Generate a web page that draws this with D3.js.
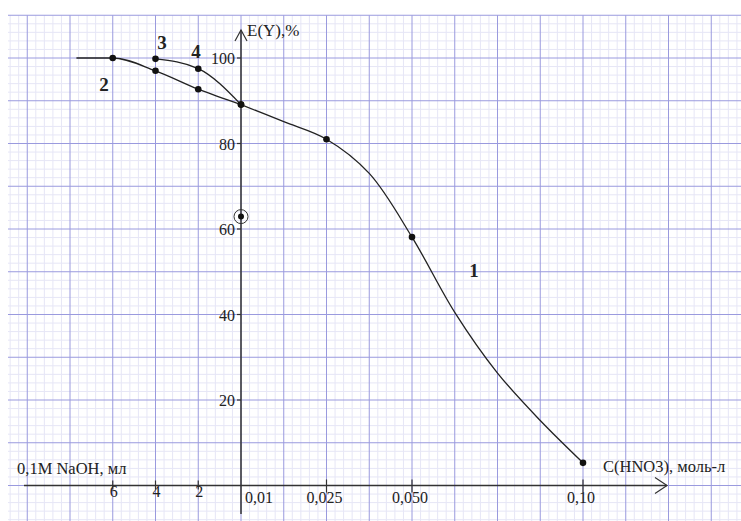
<!DOCTYPE html>
<html>
<head>
<meta charset="utf-8">
<script src="https://cdn.jsdelivr.net/npm/d3@7"></script>
<style>
  html, body { margin: 0; padding: 0; background: #fff; }
  svg { display: block; }
  text { font-family: "Liberation Serif", "Times New Roman", serif; fill: #222; }
</style>
</head>
<body>
<svg id="chart" width="741" height="521"></svg>
<script>
// Extraction degree E(Y), % versus HNO3 concentration (right) and added 0.1M NaOH volume (left)
const concTicks = [0.01, 0.025, 0.05, 0.10];
const concTickLabels = ["0,01", "0,025", "0,050", "0,10"];
const naohTicks = [6, 4, 2];
const eTicks = [20, 40, 60, 80, 100];

// curve 1: E vs C(HNO3), mol/l
const curve1Markers = [[0.01, 89.1], [0.025, 81.0], [0.05, 58.1], [0.10, 5.3]];
const curve1Trace = [[0.01, 89.1], [0.0175, 85.1], [0.025, 81.0], [0.0375, 73.0], [0.05, 58.1],
                     [0.0625, 40.5], [0.075, 26.3], [0.0875, 15.2], [0.10, 5.3]];
// curve 2: E vs NaOH volume, ml
const curve2Markers = [[6, 100], [4, 97.0], [2, 92.7], [0, 89.1]];
const curve2Trace = [[7.7, 100], [6, 100], [4, 97.0], [2, 92.7], [0, 89.1]];
// curves 3, 4: E vs NaOH volume, ml
const curve34Markers = [[4, 99.8], [2, 97.5]];
const curve34Trace = [[4, 99.8], [2, 97.5], [0, 89.1]];
// separate circled point
const circledPoint = [0.01, 62.9];

const svg = d3.select("#chart");
const W = 741, H = 521;
svg.append("rect").attr("width", W).attr("height", H).attr("fill", "#fff");

const y = d3.scaleLinear().domain([0, 100]).range([485.5, 58]);
const cell = y(0) - y(10);
const x0 = 241;
const xConc = d3.scaleLinear().domain(concTicks)
  .range([x0, x0 + 2 * cell, x0 + 4 * cell, x0 + 8 * cell]);
const xMl = d3.scaleLinear().domain([0, 10]).range([x0, x0 - 5 * cell]);

// graph-paper grid
const gx0 = 8, gy0 = y(110);
const minor = cell / 5;
const grid = svg.append("g");
const vMinor = [], vMajor = [];
for (let k = Math.ceil((gx0 - x0) / minor); x0 + k * minor <= W; k++) {
  (k % 5 === 0 ? vMajor : vMinor).push(x0 + k * minor);
}
const hMinor = [], hMajor = [];
for (let k = Math.ceil((y(0) - H) / minor); y(0) - k * minor >= gy0 - 0.01; k++) {
  (k % 5 === 0 ? hMajor : hMinor).push(y(0) - k * minor);
}
grid.selectAll(".vmin").data(vMinor).join("line")
  .attr("x1", d => d).attr("x2", d => d).attr("y1", gy0).attr("y2", H)
  .attr("stroke", "#e6e6f6").attr("stroke-width", 1);
grid.selectAll(".hmin").data(hMinor).join("line")
  .attr("x1", gx0).attr("x2", W).attr("y1", d => d).attr("y2", d => d)
  .attr("stroke", "#e6e6f6").attr("stroke-width", 1);
grid.selectAll(".vmaj").data(vMajor).join("line")
  .attr("x1", d => d).attr("x2", d => d).attr("y1", gy0).attr("y2", H)
  .attr("stroke", "#9a9ade").attr("stroke-width", 1);
grid.selectAll(".hmaj").data(hMajor).join("line")
  .attr("x1", gx0).attr("x2", W).attr("y1", d => d).attr("y2", d => d)
  .attr("stroke", "#9a9ade").attr("stroke-width", 1);

// axes
const axisColor = "#333";
const ax = svg.append("g").attr("stroke", axisColor).attr("fill", "none").attr("stroke-width", 1.5);
ax.append("line").attr("x1", 24).attr("x2", 667).attr("y1", y(0)).attr("y2", y(0));
ax.append("path").attr("d", `M${655},${y(0) - 8}L${667},${y(0)}L${655},${y(0) + 8}`).attr("stroke-width", 1.2);
ax.append("line").attr("x1", x0).attr("x2", x0).attr("y1", 514).attr("y2", 30);
ax.append("path").attr("d", `M${x0 - 6},${41}L${x0},${30}L${x0 + 6},${41}`).attr("stroke-width", 1.2);

// x ticks
ax.selectAll(".tc").data(concTicks.slice(1)).join("line")
  .attr("x1", d => xConc(d)).attr("x2", d => xConc(d))
  .attr("y1", y(0) - 6).attr("y2", y(0) + 7).attr("stroke-width", 1.2);
ax.selectAll(".tm").data(naohTicks).join("line")
  .attr("x1", d => xMl(d)).attr("x2", d => xMl(d))
  .attr("y1", y(0) - 5).attr("y2", y(0) + 4).attr("stroke-width", 1.2);
// y ticks
ax.selectAll(".ty").data(eTicks).join("line")
  .attr("x1", x0 - 4).attr("x2", x0).attr("y1", d => y(d)).attr("y2", d => y(d)).attr("stroke-width", 1.2);

// tick labels
const fs = 16;
svg.selectAll(".lc").data(concTicks).join("text")
  .attr("x", (d, i) => i === 0 ? x0 + 4 : xConc(d) - 2)
  .attr("y", 503)
  .attr("text-anchor", (d, i) => i === 0 ? "start" : "middle")
  .attr("font-size", fs)
  .text((d, i) => concTickLabels[i]);
svg.selectAll(".lm").data(naohTicks).join("text")
  .attr("x", d => xMl(d) + 1).attr("y", 497)
  .attr("text-anchor", "middle").attr("font-size", fs)
  .text(d => d);
svg.selectAll(".ly").data(eTicks).join("text")
  .attr("x", x0 - 6).attr("y", d => y(d)).attr("dy", "0.38em")
  .attr("text-anchor", "end").attr("font-size", fs)
  .text(d => d);

// axis titles
svg.append("text").attr("x", 247).attr("y", 36).attr("font-size", 17).text("E(Y),%");
svg.append("text").attr("x", 17).attr("y", 474).attr("font-size", 16.5).text("0,1M NaOH, мл");
svg.append("text").attr("x", 603).attr("y", 472).attr("font-size", 16.5).text("C(HNO3), моль-л");

// curves
const lineConc = d3.line().x(d => xConc(d[0])).y(d => y(d[1])).curve(d3.curveCatmullRom.alpha(0.5));
const lineMl = d3.line().x(d => xMl(d[0])).y(d => y(d[1])).curve(d3.curveMonotoneX);
const curves = svg.append("g").attr("fill", "none").attr("stroke", "#222").attr("stroke-width", 1.3);
curves.append("path").attr("d", lineConc(curve1Trace));
curves.append("path").attr("d", lineMl(curve2Trace.slice().reverse()));
curves.append("path").attr("d", lineMl(curve34Trace.slice().reverse()));

// markers
const dots = svg.append("g").attr("fill", "#111");
dots.selectAll(".m1").data(curve1Markers).join("circle")
  .attr("cx", d => xConc(d[0])).attr("cy", d => y(d[1])).attr("r", 3.3);
dots.selectAll(".m2").data(curve2Markers).join("circle")
  .attr("cx", d => xMl(d[0])).attr("cy", d => y(d[1])).attr("r", 3.3);
dots.selectAll(".m3").data(curve34Markers).join("circle")
  .attr("cx", d => xMl(d[0])).attr("cy", d => y(d[1])).attr("r", 3.3);
svg.append("circle").attr("cx", xConc(circledPoint[0])).attr("cy", y(circledPoint[1]))
  .attr("r", 7).attr("fill", "none").attr("stroke", "#333").attr("stroke-width", 1);
svg.append("circle").attr("cx", xConc(circledPoint[0])).attr("cy", y(circledPoint[1]))
  .attr("r", 3).attr("fill", "#111");

// curve numbers
const curveLabels = [["1", 474, 277], ["2", 104, 91], ["3", 162, 49], ["4", 196, 58]];
svg.selectAll(".cn").data(curveLabels).join("text")
  .attr("x", d => d[1]).attr("y", d => d[2])
  .attr("text-anchor", "middle").attr("font-size", 19).attr("font-weight", "bold")
  .text(d => d[0]);
</script>
</body>
</html>
